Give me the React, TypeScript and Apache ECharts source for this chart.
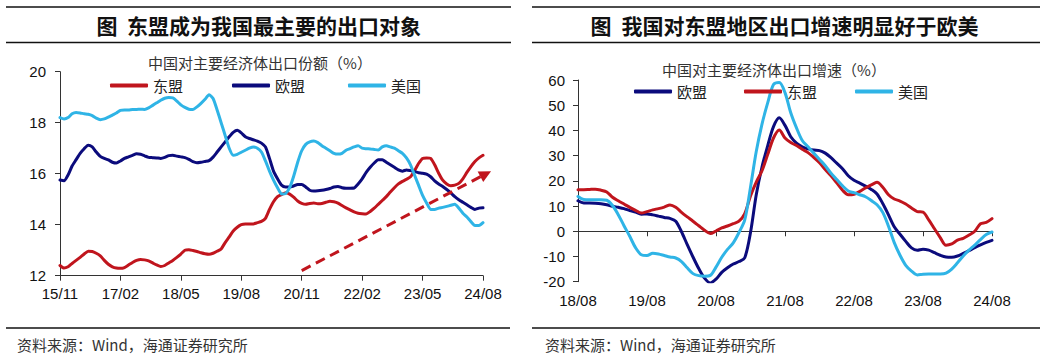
import { useEffect, useRef } from 'react';
import * as echarts from 'echarts';

// ---------- categories ----------
function monthLabels(startYear: number, startMonth: number, count: number): string[] {
  const out: string[] = [];
  let y = startYear;
  let m = startMonth;
  for (let i = 0; i < count; i++) {
    out.push(String(y % 100).padStart(2, '0') + '/' + String(m).padStart(2, '0'));
    m++;
    if (m > 12) { m = 1; y++; }
  }
  return out;
}
const shareMonths: string[] = monthLabels(2015, 11, 106); // 15/11 .. 24/08
const growthMonths: string[] = monthLabels(2018, 8, 73); // 18/08 .. 24/08

// ---------- left chart: export share (%) ----------
const aseanShare: number[] = [
  12.4, 12.3, 12.35, 12.48, 12.6, 12.72, 12.85, 12.96, 12.95, 12.88,
  12.78, 12.6, 12.45, 12.35, 12.3, 12.29, 12.32, 12.42, 12.52, 12.6,
  12.64, 12.62, 12.58, 12.5, 12.42, 12.36, 12.4, 12.5, 12.6, 12.72,
  12.85, 13.0, 13.02, 12.99, 12.95, 12.9, 12.86, 12.84, 12.88, 12.96,
  13.05, 13.3, 13.52, 13.75, 13.9, 14.0, 14.03, 14.03, 14.03, 14.08,
  14.13, 14.25, 14.6, 14.9, 15.1, 15.18, 15.25, 15.2, 15.08, 14.93,
  14.84, 14.8, 14.83, 14.85, 14.82, 14.83, 14.88, 14.92, 14.9, 14.85,
  14.75, 14.66, 14.58, 14.5, 14.45, 14.43, 14.42, 14.52, 14.65, 14.8,
  14.95, 15.1, 15.28, 15.45, 15.6, 15.7, 15.78, 15.88, 16.12, 16.4,
  16.6, 16.62, 16.6, 16.35, 16.02, 15.75, 15.6, 15.53, 15.55, 15.62,
  15.8, 16.05, 16.28, 16.48, 16.62, 16.72,
];
const euShare: number[] = [
  15.75, 15.72, 15.95, 16.3, 16.55, 16.8, 16.98, 17.12, 17.05, 16.85,
  16.68, 16.6, 16.54, 16.45, 16.42, 16.5, 16.6, 16.66, 16.72, 16.78,
  16.76, 16.7, 16.64, 16.63, 16.62, 16.6, 16.64, 16.71, 16.72, 16.69,
  16.66, 16.63, 16.56, 16.47, 16.43, 16.45, 16.48, 16.51, 16.65, 16.85,
  17.05, 17.25, 17.45, 17.62, 17.7, 17.6, 17.45, 17.38, 17.33, 17.28,
  17.2, 17.05, 16.6, 16.1, 15.8, 15.55, 15.48, 15.48, 15.52, 15.58,
  15.58, 15.48, 15.35, 15.32, 15.33, 15.35, 15.38, 15.42, 15.48, 15.5,
  15.45, 15.43, 15.43, 15.44, 15.6, 15.8, 16.05, 16.25, 16.42, 16.55,
  16.55, 16.45, 16.35, 16.25, 16.15, 16.1, 16.15, 16.12, 16.08, 16.04,
  16.02, 15.98, 15.88, 15.72, 15.6, 15.5, 15.38, 15.25, 15.1, 14.98,
  14.88, 14.78, 14.68, 14.6, 14.65, 14.66,
];
const usShare: number[] = [
  18.2, 18.15, 18.2, 18.35, 18.4, 18.38, 18.35, 18.33, 18.28, 18.18,
  18.12, 18.15, 18.22, 18.3, 18.38, 18.48, 18.5, 18.5, 18.52, 18.52,
  18.53, 18.52, 18.58, 18.68, 18.78, 18.88, 18.96, 18.99, 18.97, 18.85,
  18.7, 18.6, 18.53, 18.52, 18.62, 18.76, 18.92, 19.1, 18.95, 18.5,
  18.0, 17.5, 17.0, 16.72, 16.76, 16.84, 16.92, 17.0, 17.05, 17.0,
  16.85, 16.5, 16.1, 15.75, 15.45, 15.2, 15.22, 15.45, 15.9, 16.45,
  16.9, 17.15, 17.25, 17.28, 17.22, 17.1, 17.0, 16.9, 16.8, 16.77,
  16.8, 16.92, 16.98, 17.05, 17.1, 17.0, 16.98, 16.97, 16.95, 16.93,
  17.05, 17.1, 17.05, 17.0, 16.9, 16.8, 16.62, 16.35, 15.95, 15.55,
  15.15, 14.85, 14.6, 14.6, 14.65, 14.68, 14.72, 14.76, 14.8, 14.65,
  14.45, 14.3, 14.12, 13.97, 13.97, 14.08,
];
// trend arrow annotation: [category index, value]
const trendStart: number[] = [59.8, 12.2];
const trendEnd: number[] = [107.3, 16.1];

// ---------- right chart: export growth (%) ----------
const euGrowth: number[] = [
  12.1, 11.2, 11.2, 11.1, 10.9, 10.5, 9.9, 9.5, 9.0, 8.2,
  7.6, 6.8, 6.9, 6.5, 6.0, 5.5, 5.1, 4.0, -0.2, -5.3,
  -10.2, -14.8, -18.6, -20.5, -19.0, -16.3, -14.5, -13.0, -12.0, -10.5,
  -0.5, 14.5, 25.5, 34.0, 41.5, 45.0, 42.0, 37.5, 35.0, 33.5,
  32.7, 32.2, 32.0, 31.0, 29.2, 27.0, 24.8, 22.0, 20.2, 19.1,
  17.9, 16.6, 14.8, 11.0, 6.5, 1.8, -1.2, -4.0, -6.6, -7.5,
  -7.1, -7.5, -8.5, -9.5, -10.2, -10.3, -9.8, -8.8, -7.7, -6.5,
  -5.4, -4.4, -3.6,
];
const aseanGrowth: number[] = [
  16.5, 16.5, 16.6, 16.7, 16.3, 15.6, 13.5, 12.1, 10.8, 9.5,
  8.3, 7.2, 7.8, 8.5, 9.0, 9.6, 10.4, 9.5, 7.5, 5.7,
  4.0, 2.2, 0.4, -0.9, 0.1, 1.3, 2.1, 3.0, 4.0, 7.0,
  14.0, 19.5, 24.0, 30.5, 37.0, 40.2, 37.0, 35.2, 34.0, 32.5,
  31.2, 29.3, 27.2, 24.5, 22.0, 19.2, 16.3, 14.5, 14.7, 15.8,
  17.2, 18.4, 19.4, 17.5, 14.5, 12.8, 12.0, 10.8, 9.2, 7.8,
  7.6, 4.5, 1.0, -2.5, -5.5, -5.0, -3.5, -2.8, -1.5, 0.0,
  3.0, 3.5, 5.0,
];
const usGrowth: number[] = [
  13.8, 12.6, 12.5, 12.5, 12.5, 12.3, 10.2, 6.6, 2.2, -2.0,
  -6.5, -9.3, -9.6, -8.7, -9.0, -9.6, -10.2, -10.6, -12.0, -14.5,
  -16.8, -17.6, -17.8, -17.5, -14.2, -10.3, -7.2, -4.6, -0.5, 4.5,
  17.5, 31.6, 42.5, 51.0, 58.2, 59.0, 55.0, 47.0, 41.0, 36.0,
  33.5, 31.0, 28.5, 26.0, 23.0, 20.5, 18.0, 16.0, 15.3, 14.5,
  13.7, 12.2, 10.5, 7.5, 2.0, -4.5, -9.5, -13.5, -15.8, -17.3,
  -17.0, -16.9, -16.9, -16.9, -16.6, -15.0, -12.5, -9.8, -7.5, -5.5,
  -3.3, -1.3, -0.3,
];

// ---------- styles ----------
const RED = '#C0151D';
const NAVY = '#0B0B7C';
const SKY = '#2FB4E6';
const AXIS = '#333333';
const LATIN = 'Liberation Sans, Arial, sans-serif';
const CJK = '"Noto Sans CJK SC", sans-serif';

function lineSeries(name: string, data: number[], color: string, idx: number, smooth: number) {
  return {
    type: 'line',
    name,
    data,
    xAxisIndex: idx,
    yAxisIndex: idx === 0 ? 0 : 1,
    symbol: 'none',
    smooth,
    lineStyle: { color, width: 3, cap: 'round', join: 'round' },
    itemStyle: { color },
    z: 3,
  };
}

function legendItem(name: string, left: number, top: number) {
  return {
    data: [name],
    left,
    top,
    orient: 'horizontal',
    padding: 0,
    icon: 'roundRect',
    itemWidth: 38,
    itemHeight: 4,
    itemGap: 5,
    selectedMode: false,
    textStyle: { fontSize: 15, color: '#222', fontFamily: CJK, padding: [0, 0, 0, 0] },
  };
}

function buildStaticGraphics(): any[] {
  const lineStyle = { stroke: '#111', lineWidth: 1.3 };
  const titleFont = { fontSize: 21, fontWeight: 'bold', fontFamily: CJK, fill: '#111' };
  const els: any[] = [];
  // header rules
  els.push({ type: 'line', shape: { x1: 6, y1: 7, x2: 511, y2: 7 }, style: lineStyle, silent: true });
  els.push({ type: 'line', shape: { x1: 6, y1: 42.5, x2: 511, y2: 42.5 }, style: lineStyle, silent: true });
  els.push({ type: 'line', shape: { x1: 532, y1: 7, x2: 1040, y2: 7 }, style: lineStyle, silent: true });
  els.push({ type: 'line', shape: { x1: 532, y1: 42.5, x2: 1040, y2: 42.5 }, style: lineStyle, silent: true });
  // footer rules
  els.push({ type: 'line', shape: { x1: 6, y1: 328, x2: 510, y2: 328 }, style: lineStyle, silent: true });
  els.push({ type: 'line', shape: { x1: 532, y1: 328, x2: 1040, y2: 328 }, style: lineStyle, silent: true });
  // titles
  els.push({ type: 'text', x: 107, y: 25, style: { text: '图', align: 'center', verticalAlign: 'middle', ...titleFont } });
  els.push({ type: 'text', x: 274, y: 25, style: { text: '东盟成为我国最主要的出口对象', align: 'center', verticalAlign: 'middle', ...titleFont } });
  els.push({ type: 'text', x: 601, y: 25, style: { text: '图', align: 'center', verticalAlign: 'middle', ...titleFont } });
  els.push({ type: 'text', x: 800, y: 25, style: { text: '我国对东盟地区出口增速明显好于欧美', align: 'center', verticalAlign: 'middle', ...titleFont } });
  // subtitles
  const subFont = { fontSize: 15, fontFamily: CJK, fill: '#333' };
  els.push({ type: 'text', x: 260, y: 62, style: { text: '中国对主要经济体出口份额（%）', align: 'center', verticalAlign: 'middle', ...subFont } });
  els.push({ type: 'text', x: 774, y: 69, style: { text: '中国对主要经济体出口增速（%）', align: 'center', verticalAlign: 'middle', ...subFont } });
  // sources
  const srcFont = { fontSize: 15, fontFamily: CJK, fill: '#333' };
  els.push({ type: 'text', x: 17, y: 344, style: { text: '资料来源：Wind，海通证券研究所', align: 'left', verticalAlign: 'middle', ...srcFont } });
  els.push({ type: 'text', x: 545, y: 344, style: { text: '资料来源：Wind，海通证券研究所', align: 'left', verticalAlign: 'middle', ...srcFont } });
  return els;
}

const axisLabelStyle = { fontSize: 15, color: '#111', fontFamily: LATIN };

const option: any = {
  animation: false,
  backgroundColor: '#ffffff',
  grid: [
    { left: 60, top: 71.7, width: 423, height: 204, containLabel: false },
    { left: 578, top: 80, width: 414, height: 201.7, containLabel: false },
  ],
  legend: [
    legendItem('东盟', 110, 78),
    legendItem('欧盟', 232, 78),
    legendItem('美国', 348, 78),
    legendItem('欧盟', 634, 84),
    legendItem('东盟', 744, 84),
    legendItem('美国', 855, 84),
  ],
  xAxis: [
    {
      type: 'category',
      gridIndex: 0,
      data: shareMonths,
      boundaryGap: false,
      position: 'bottom',
      axisLine: { show: true, onZero: false, lineStyle: { color: AXIS, width: 1 } },
      axisTick: { show: true, interval: 14, length: 5, lineStyle: { color: AXIS } },
      axisLabel: { interval: 14, margin: 10, ...axisLabelStyle },
      splitLine: { show: false },
    },
    {
      type: 'category',
      gridIndex: 1,
      data: growthMonths,
      boundaryGap: false,
      position: 'bottom',
      axisLine: { show: false, onZero: false },
      axisTick: { show: false },
      axisLabel: { interval: 11, margin: 11, ...axisLabelStyle },
      splitLine: { show: false },
    },
    {
      type: 'category',
      gridIndex: 1,
      data: growthMonths,
      boundaryGap: false,
      position: 'top',
      axisLine: { show: true, onZero: true, lineStyle: { color: AXIS, width: 1 } },
      axisTick: { show: true, inside: true, interval: 11, length: 5, lineStyle: { color: AXIS } },
      axisLabel: { show: false },
      splitLine: { show: false },
    },
  ],
  yAxis: [
    {
      type: 'value',
      gridIndex: 0,
      min: 12,
      max: 20,
      interval: 2,
      axisLine: { show: true, lineStyle: { color: AXIS, width: 1 } },
      axisTick: { show: true, length: 5, lineStyle: { color: AXIS } },
      axisLabel: { margin: 14, ...axisLabelStyle },
      splitLine: { show: false },
    },
    {
      type: 'value',
      gridIndex: 1,
      min: -20,
      max: 60,
      interval: 10,
      axisLine: { show: true, lineStyle: { color: AXIS, width: 1 } },
      axisTick: { show: true, length: 5, lineStyle: { color: AXIS } },
      axisLabel: { margin: 13, ...axisLabelStyle },
      splitLine: { show: false },
    },
  ],
  series: [
    lineSeries('东盟', aseanShare, RED, 0, 0.2),
    lineSeries('欧盟', euShare, NAVY, 0, 0.2),
    lineSeries('美国', usShare, SKY, 0, 0.2),
    lineSeries('欧盟', euGrowth, NAVY, 1, 0.3),
    lineSeries('东盟', aseanGrowth, RED, 1, 0.3),
    lineSeries('美国', usGrowth, SKY, 1, 0.3),
  ],
};

export default function App() {
  const ref = useRef<HTMLDivElement>(null);
  useEffect(() => {
    document.body.style.margin = '0';
    const chart = echarts.init(ref.current!, null, { renderer: 'svg' });
    chart.setOption(option);

    // dashed trend arrow placed through the left grid's own scales
    const p0 = chart.convertToPixel({ gridIndex: 0 }, trendStart) as number[];
    const tip = chart.convertToPixel({ gridIndex: 0 }, trendEnd) as number[];
    const dx = tip[0] - p0[0];
    const dy = tip[1] - p0[1];
    const len = Math.sqrt(dx * dx + dy * dy);
    const ux = dx / len;
    const uy = dy / len;
    const headLen = 12;
    const headHalf = 6;
    const bx = tip[0] - ux * headLen;
    const by = tip[1] - uy * headLen;
    const nx = -uy;
    const ny = ux;
    const arrow: any[] = [
      {
        type: 'line',
        shape: { x1: p0[0], y1: p0[1], x2: bx + ux * 1, y2: by + uy * 1 },
        style: { stroke: RED, lineWidth: 3, lineDash: [10, 6] },
        silent: true,
        z: 10,
      },
      {
        type: 'polygon',
        shape: {
          points: [
            [tip[0], tip[1]],
            [bx + nx * headHalf, by + ny * headHalf],
            [bx - nx * headHalf, by - ny * headHalf],
          ],
        },
        style: { fill: RED },
        silent: true,
        z: 10,
      },
    ];

    chart.setOption({ graphic: { elements: [...buildStaticGraphics(), ...arrow] } });
    return () => chart.dispose();
  }, []);
  return <div ref={ref} style={{ width: 1055, height: 360 }} />;
}
